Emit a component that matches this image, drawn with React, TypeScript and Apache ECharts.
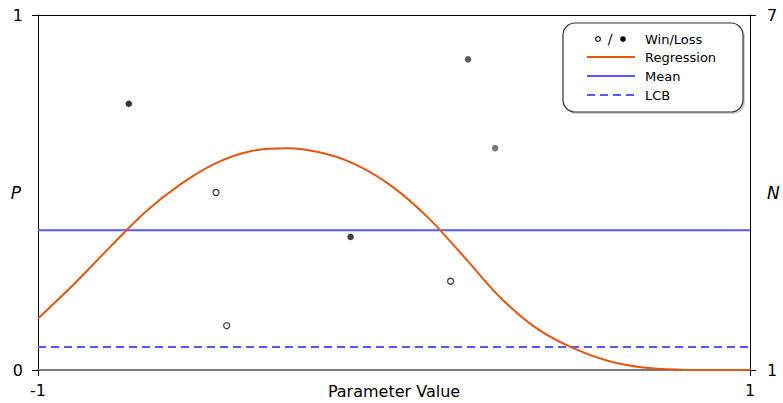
import React, { useEffect, useRef } from "react";
import * as echarts from "echarts";

// Regression curve (parameter value, probability)
const regX = [-1, -0.9, -0.8, -0.7, -0.6, -0.5, -0.4, -0.3, -0.2, -0.1, 0, 0.1, 0.2, 0.3, 0.4, 0.5, 0.6, 0.7, 0.8, 0.9, 1];
const regP = [0.145, 0.241, 0.344, 0.444, 0.523, 0.583, 0.617, 0.625, 0.611, 0.575, 0.513, 0.425, 0.315, 0.203, 0.118, 0.063, 0.026, 0.007, 0.001, 0.0, 0.0];

// Observed outcomes
const winX = [-0.5, -0.47, 0.159];
const winP = [0.5, 0.125, 0.25];
const lossX = [-0.745, -0.122, 0.208, 0.284];
const lossP = [0.75, 0.375, 0.875, 0.625];
const lossShade = ["#000000", "#111111", "#333333", "#555555"];

const meanP = 0.394;
const lcbP = 0.065;
const xTicks = [-1, 1];
const nTickLabels = ["1", "7"];

const FONT = "DejaVu Sans";

export default function App() {
  const ref = useRef<HTMLDivElement>(null);
  useEffect(() => {
    if (!ref.current) return;
    const chart = echarts.init(ref.current, null, { renderer: "svg" });
    const legendX = 563;
    const legendY = 23;
    const rowY = [39, 57, 76, 95];
    chart.setOption({
      animation: false,
      textStyle: { fontFamily: FONT },
      grid: { left: 38, right: 33, top: 15, bottom: 33, outerBoundsMode: "none", containLabel: false },
      xAxis: [
        {
          type: "value",
          min: -1,
          max: 1,
          position: "bottom",
          axisLine: { onZero: false, lineStyle: { color: "#7a7a7a", width: 2 } },
          axisTick: { show: true, customValues: xTicks, length: 6, lineStyle: { color: "#000" } },
          axisLabel: { customValues: xTicks, color: "#000", fontSize: 16, margin: 12, fontFamily: FONT },
          splitLine: { show: false },
          name: "Parameter Value",
          nameLocation: "middle",
          nameGap: 13,
          nameMoveOverlap: false,
          nameTextStyle: { color: "#000", fontSize: 16, fontFamily: FONT },
        },
        {
          type: "value",
          min: -1,
          max: 1,
          position: "top",
          axisLine: { show: true, onZero: false, lineStyle: { color: "#000", width: 1 } },
          axisTick: { show: false },
          axisLabel: { show: false },
          splitLine: { show: false },
        },
      ],
      yAxis: [
        {
          type: "value",
          min: 0,
          max: 1,
          interval: 1,
          position: "left",
          axisLine: { show: true, onZero: false, lineStyle: { color: "#000", width: 1 } },
          axisTick: { show: true, length: 6, lineStyle: { color: "#000" } },
          axisLabel: { color: "#000", fontSize: 16, margin: 15, fontFamily: FONT },
          splitLine: { show: false },
          name: "P",
          nameLocation: "middle",
          nameRotate: 0,
          nameGap: 17,
          nameMoveOverlap: false,
          nameTextStyle: { color: "#000", fontSize: 17, fontStyle: "italic", fontFamily: FONT },
        },
        {
          type: "value",
          min: 0,
          max: 1,
          interval: 1,
          position: "right",
          axisLine: { show: true, onZero: false, lineStyle: { color: "#000", width: 1 } },
          axisTick: { show: true, length: 6, lineStyle: { color: "#000" } },
          axisLabel: {
            color: "#000",
            fontSize: 16,
            margin: 17,
            fontFamily: FONT,
            formatter: (v: number) => (v === 0 ? nTickLabels[0] : nTickLabels[1]),
          },
          splitLine: { show: false },
          name: "N",
          nameLocation: "middle",
          nameRotate: 0,
          nameGap: 17,
          nameMoveOverlap: false,
          nameTextStyle: { color: "#000", fontSize: 17, fontStyle: "italic", fontFamily: FONT },
        },
      ],
      series: [
        {
          name: "Mean",
          type: "line",
          data: [[-1, meanP], [1, meanP]],
          showSymbol: false,
          lineStyle: { color: "#5757ff", width: 2 },
          z: 3,
        },
        {
          name: "LCB",
          type: "line",
          data: [[-1, lcbP], [1, lcbP]],
          showSymbol: false,
          lineStyle: { color: "#5757ff", width: 2, type: [8, 5] },
          z: 3,
        },
        {
          name: "Regression",
          type: "line",
          data: regX.map((x, i) => [x, regP[i]]),
          smooth: 0.3,
          showSymbol: false,
          lineStyle: { color: "#e4560f", width: 2 },
          z: 4,
        },
        {
          name: "Win",
          type: "scatter",
          data: winX.map((x, i) => [x, winP[i]]),
          symbolSize: 6,
          itemStyle: { color: "#fff", borderColor: "#111", borderWidth: 1.3 },
          z: 5,
        },
        {
          name: "Loss",
          type: "scatter",
          data: lossX.map((x, i) => ({ value: [x, lossP[i]], itemStyle: { color: lossShade[i] } })),
          symbolSize: 6.5,
          z: 5,
        },
      ],
      graphic: [
        {
          type: "rect",
          shape: { x: legendX + 2, y: legendY + 2, width: 180, height: 89, r: 12 },
          style: { fill: "#cfcfcf" },
          z: 10,
        },
        {
          type: "rect",
          shape: { x: legendX, y: legendY, width: 180, height: 89, r: 12 },
          style: { fill: "#fff", stroke: "#333", lineWidth: 1.2 },
          z: 11,
        },
        {
          type: "circle",
          shape: { cx: 598, cy: rowY[0], r: 2.4 },
          style: { fill: "#fff", stroke: "#111", lineWidth: 1.2 },
          z: 12,
        },
        {
          type: "text",
          style: { x: 610, y: rowY[0], text: "/", fill: "#000", font: `14px ${FONT}`, align: "center", verticalAlign: "middle" },
          z: 12,
        },
        {
          type: "circle",
          shape: { cx: 623, cy: rowY[0], r: 2.8 },
          style: { fill: "#000" },
          z: 12,
        },
        {
          type: "line",
          shape: { x1: 587, y1: rowY[1], x2: 635, y2: rowY[1] },
          style: { stroke: "#e4560f", lineWidth: 2 },
          z: 12,
        },
        {
          type: "line",
          shape: { x1: 587, y1: rowY[2], x2: 635, y2: rowY[2] },
          style: { stroke: "#5757ff", lineWidth: 2 },
          z: 12,
        },
        {
          type: "line",
          shape: { x1: 587, y1: rowY[3], x2: 635, y2: rowY[3] },
          style: { stroke: "#5757ff", lineWidth: 2, lineDash: [8, 5] },
          z: 12,
        },
        ...["Win/Loss", "Regression", "Mean", "LCB"].map((t, i) => ({
          type: "text",
          style: { x: 645, y: rowY[i], text: t, fill: "#000", font: `13px ${FONT}`, verticalAlign: "middle" },
          z: 12,
        })),
      ],
    });
    return () => chart.dispose();
  }, []);
  return <div ref={ref} style={{ width: 783, height: 403, position: "absolute", left: 0, top: 0 }} />;
}
